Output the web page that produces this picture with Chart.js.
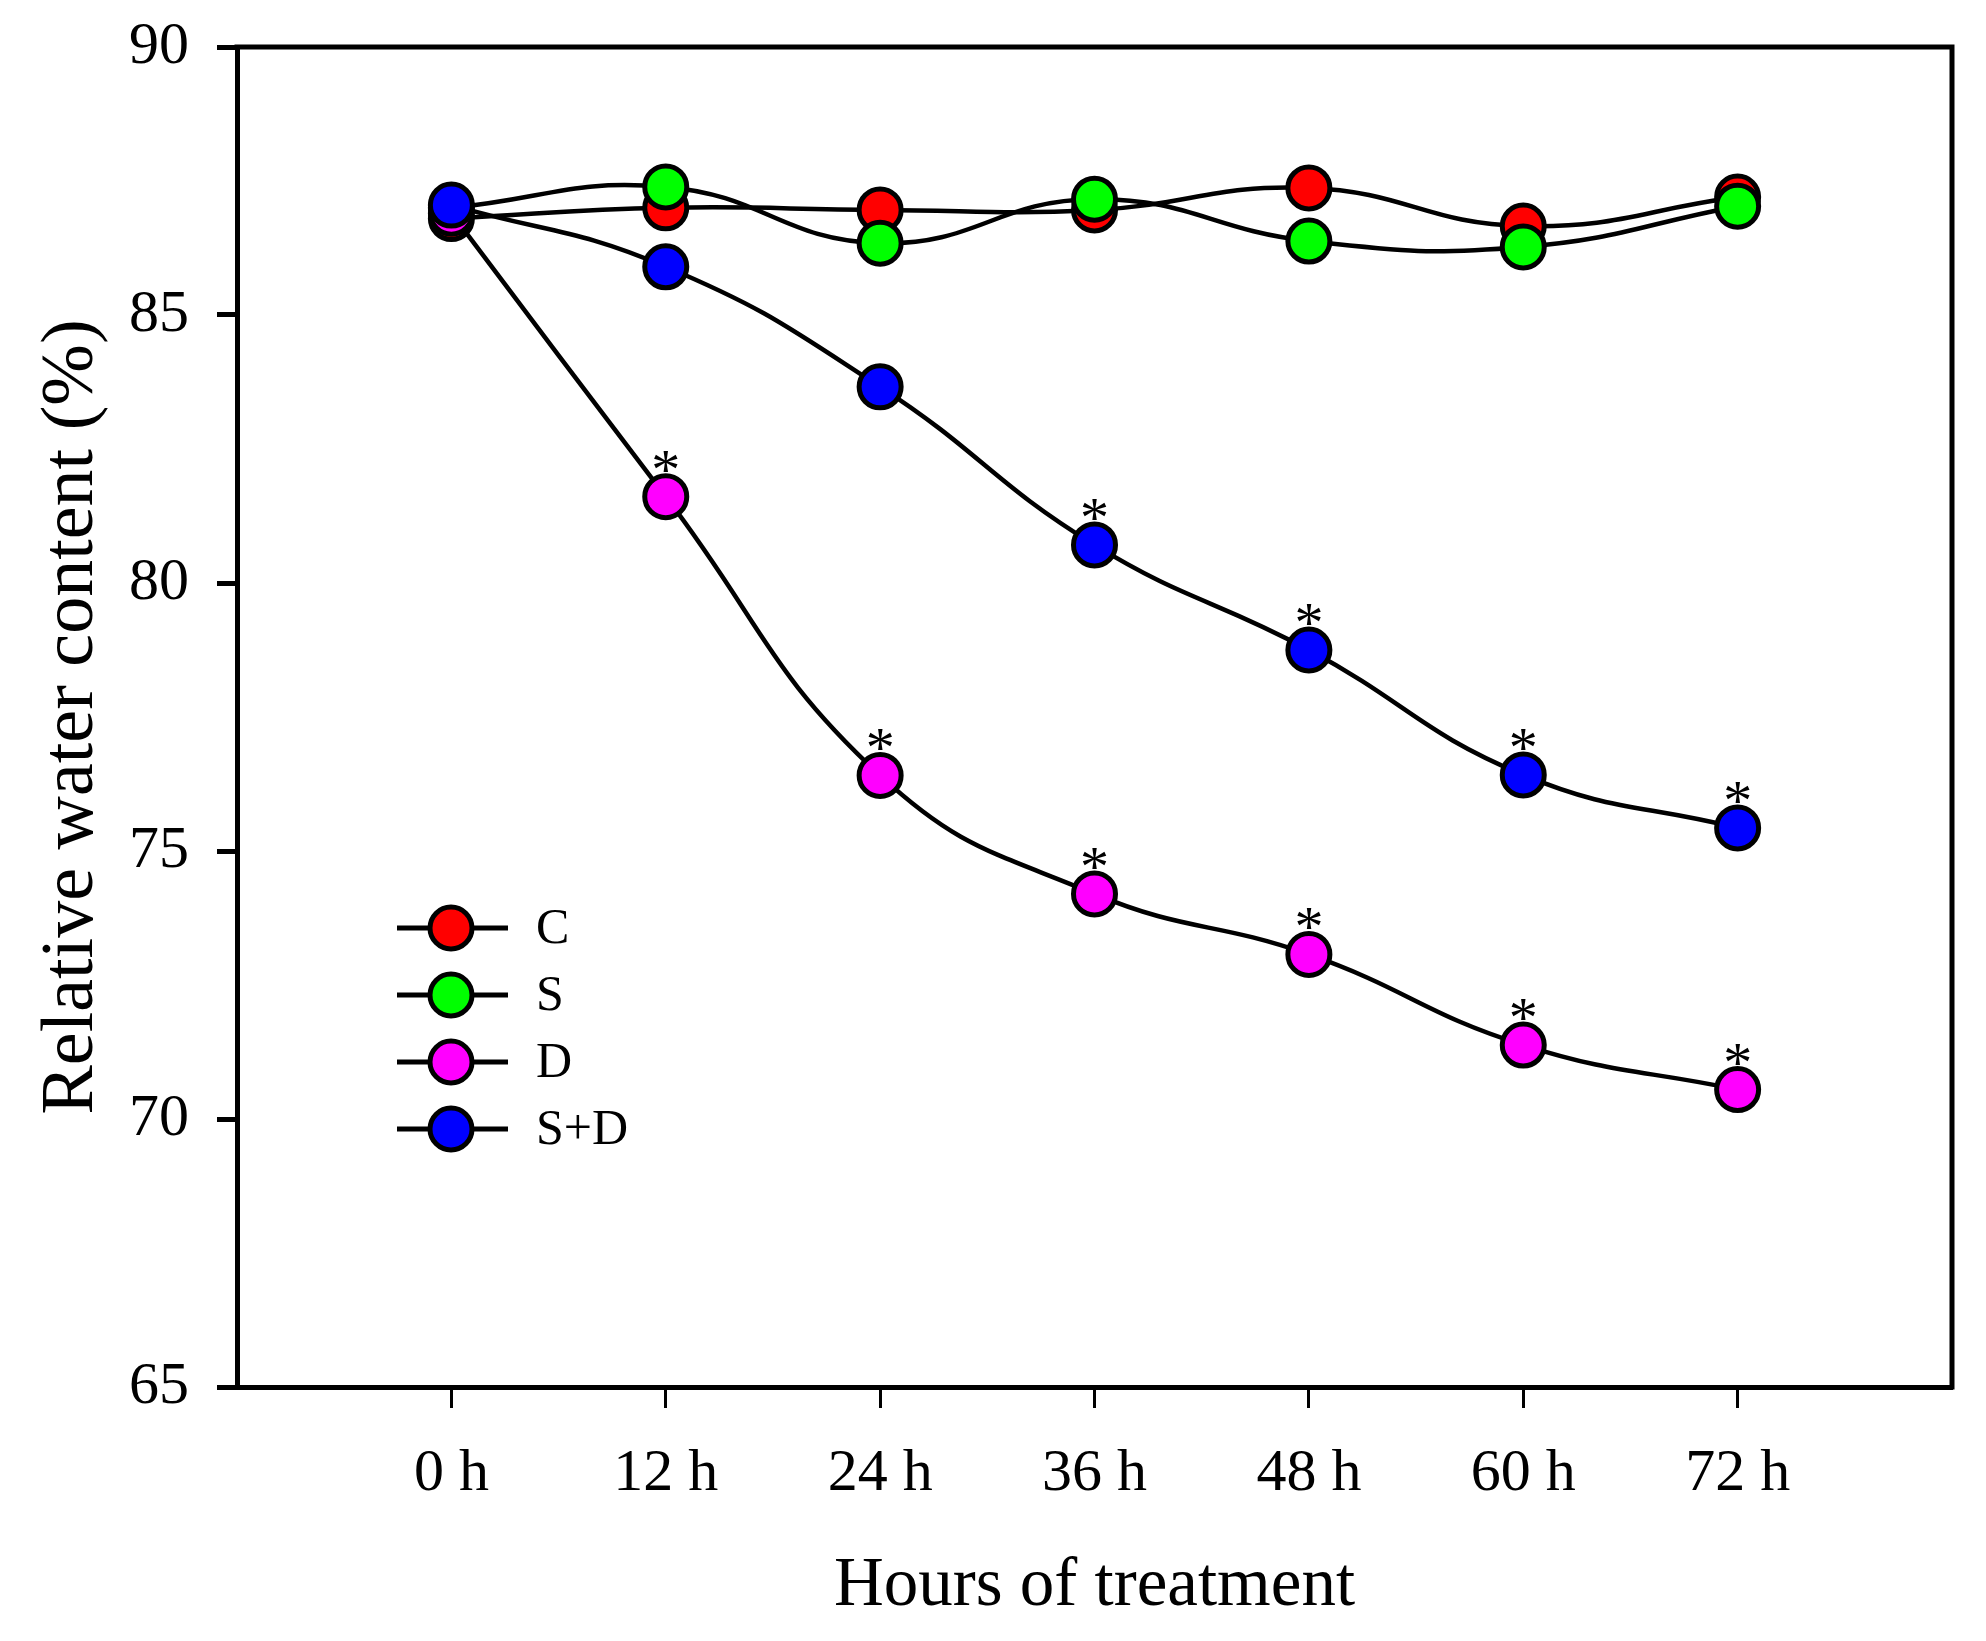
<!DOCTYPE html>
<html>
<head>
<meta charset="utf-8">
<title>Relative water content</title>
<script src="https://cdn.jsdelivr.net/npm/chart.js@4.4.1/dist/chart.umd.min.js"></script>
<style>
  html, body { margin: 0; padding: 0; background: #fff; }
  #wrap { width: 1986px; height: 1641px; }
</style>
</head>
<body>
<div id="wrap"><canvas id="chart"></canvas></div>
<script>
'use strict';

// hours of treatment
const hours = [0, 12, 24, 36, 48, 60, 72];
const hourLabels = ['0 h', '12 h', '24 h', '36 h', '48 h', '60 h', '72 h'];

// relative water content (%)
const seriesNames = ['C', 'S', 'D', 'S+D'];
const controlRWC = [86.8, 87.0, 86.96, 86.96, 87.37, 86.66, 87.2];
const saltRWC = [87.0, 87.39, 86.34, 87.16, 86.38, 86.27, 87.03];
const droughtRWC = [86.9, 81.61, 76.41, 74.2, 73.07, 71.38, 70.55];
const saltDroughtRWC = [87.05, 85.9, 83.66, 80.71, 78.75, 76.42, 75.43];

// significance marks (*) per point
const droughtStars = [false, true, true, true, true, true, true];
const saltDroughtStars = [false, false, false, true, true, true, true];

const yTicks = [65, 70, 75, 80, 85, 90];

const FONT = "'Liberation Serif', 'Times New Roman', serif";

function points(values) {
  return hours.map((h, i) => ({ x: h, y: values[i] }));
}

function makeSet(label, values, color, order, stars) {
  return {
    label: label,
    data: points(values),
    borderColor: '#000',
    borderWidth: 4.5,
    backgroundColor: color,
    pointBackgroundColor: color,
    pointBorderColor: '#000',
    pointBorderWidth: 5,
    pointRadius: 21,
    pointHoverRadius: 21,
    tension: 0.45,
    fill: false,
    order: order,
    stars: stars || null,
    clip: false,
  };
}

// frame on top and right side
const framePlugin = {
  id: 'frame',
  beforeDatasetsDraw(chart) {
    const { ctx, chartArea } = chart;
    ctx.save();
    ctx.strokeStyle = '#000';
    ctx.lineWidth = 5;
    ctx.lineCap = 'square';
    ctx.beginPath();
    ctx.moveTo(chartArea.left, chartArea.top);
    ctx.lineTo(chartArea.right, chartArea.top);
    ctx.lineTo(chartArea.right, chartArea.bottom);
    ctx.stroke();
    ctx.restore();
  }
};

// asterisks above significant points
const starPlugin = {
  id: 'stars',
  afterDatasetsDraw(chart) {
    const { ctx } = chart;
    ctx.save();
    ctx.fillStyle = '#000';
    ctx.font = '58px ' + FONT;
    ctx.textAlign = 'center';
    ctx.textBaseline = 'alphabetic';
    chart.data.datasets.forEach((ds, di) => {
      if (!ds.stars) return;
      const meta = chart.getDatasetMeta(di);
      meta.data.forEach((pt, i) => {
        if (ds.stars[i]) ctx.fillText('*', pt.x, pt.y - 8);
      });
    });
    ctx.restore();
  }
};

// legend in the lower left of the plot
const legendPlugin = {
  id: 'sketchLegend',
  afterDraw(chart) {
    const { ctx } = chart;
    const x0 = 397, x1 = 508, cx = 451, tx = 536;
    const rows = [928, 995, 1062, 1129];
    ctx.save();
    chart.data.datasets.forEach((ds, i) => {
      const y = rows[i];
      ctx.strokeStyle = '#000';
      ctx.lineWidth = 5;
      ctx.beginPath();
      ctx.moveTo(x0, y);
      ctx.lineTo(x1, y);
      ctx.stroke();
      ctx.beginPath();
      ctx.arc(cx, y, 21, 0, Math.PI * 2);
      ctx.fillStyle = ds.pointBackgroundColor;
      ctx.fill();
      ctx.stroke();
      ctx.fillStyle = '#000';
      ctx.font = '50px ' + FONT;
      ctx.textAlign = 'left';
      ctx.textBaseline = 'middle';
      ctx.fillText(ds.label, tx, y + 2);
    });
    ctx.restore();
  }
};

Chart.defaults.font.family = FONT;
Chart.defaults.color = '#000';

const ctx = document.getElementById('chart').getContext('2d');

const chart = new Chart(ctx, {
  type: 'line',
  data: {
    datasets: [
      makeSet(seriesNames[0], controlRWC, '#ff0000', 4),
      makeSet(seriesNames[1], saltRWC, '#00ff00', 3),
      makeSet(seriesNames[2], droughtRWC, '#ff00ff', 2, droughtStars),
      makeSet(seriesNames[3], saltDroughtRWC, '#0000ff', 1, saltDroughtStars),
    ],
  },
  options: {
    responsive: true,
    maintainAspectRatio: false,
    animation: false,
    devicePixelRatio: 1,
    layout: { padding: { top: 47, right: 34, left: 0, bottom: 0 } },
    plugins: {
      legend: { display: false },
      tooltip: { enabled: false },
    },
    scales: {
      x: {
        type: 'linear',
        min: -12,
        max: 84,
        afterBuildTicks(scale) {
          scale.ticks = hours.map(v => ({ value: v }));
        },
        afterFit(scale) { scale.height = 254; },
        ticks: {
          callback: (v) => hourLabels[hours.indexOf(v)],
          font: { size: 60 },
          padding: 30,
          maxRotation: 0,
          autoSkip: false,
        },
        grid: {
          drawOnChartArea: false,
          drawTicks: true,
          tickLength: 21,
          tickWidth: 3,
          color: '#000',
        },
        border: { display: true, color: '#000', width: 5 },
        title: {
          display: true,
          text: 'Hours of treatment',
          font: { size: 69 },
          padding: { top: 0, bottom: 13 },
        },
      },
      y: {
        min: 65,
        max: 90,
        afterBuildTicks(scale) {
          scale.ticks = yTicks.map(v => ({ value: v }));
        },
        afterFit(scale) {
          scale.width = 237;
          scale.paddingTop = 0;
          scale.paddingBottom = 0;
        },
        ticks: {
          font: { size: 60 },
          padding: 28,
        },
        grid: {
          drawOnChartArea: false,
          drawTicks: true,
          tickLength: 20,
          tickWidth: 5,
          color: '#000',
        },
        border: { display: true, color: '#000', width: 5 },
        title: {
          display: true,
          text: 'Relative water content (%)',
          font: { size: 74 },
          padding: { top: 28, bottom: 0 },
        },
      },
    },
  },
  plugins: [framePlugin, starPlugin, legendPlugin],
});
</script>
</body>
</html>
